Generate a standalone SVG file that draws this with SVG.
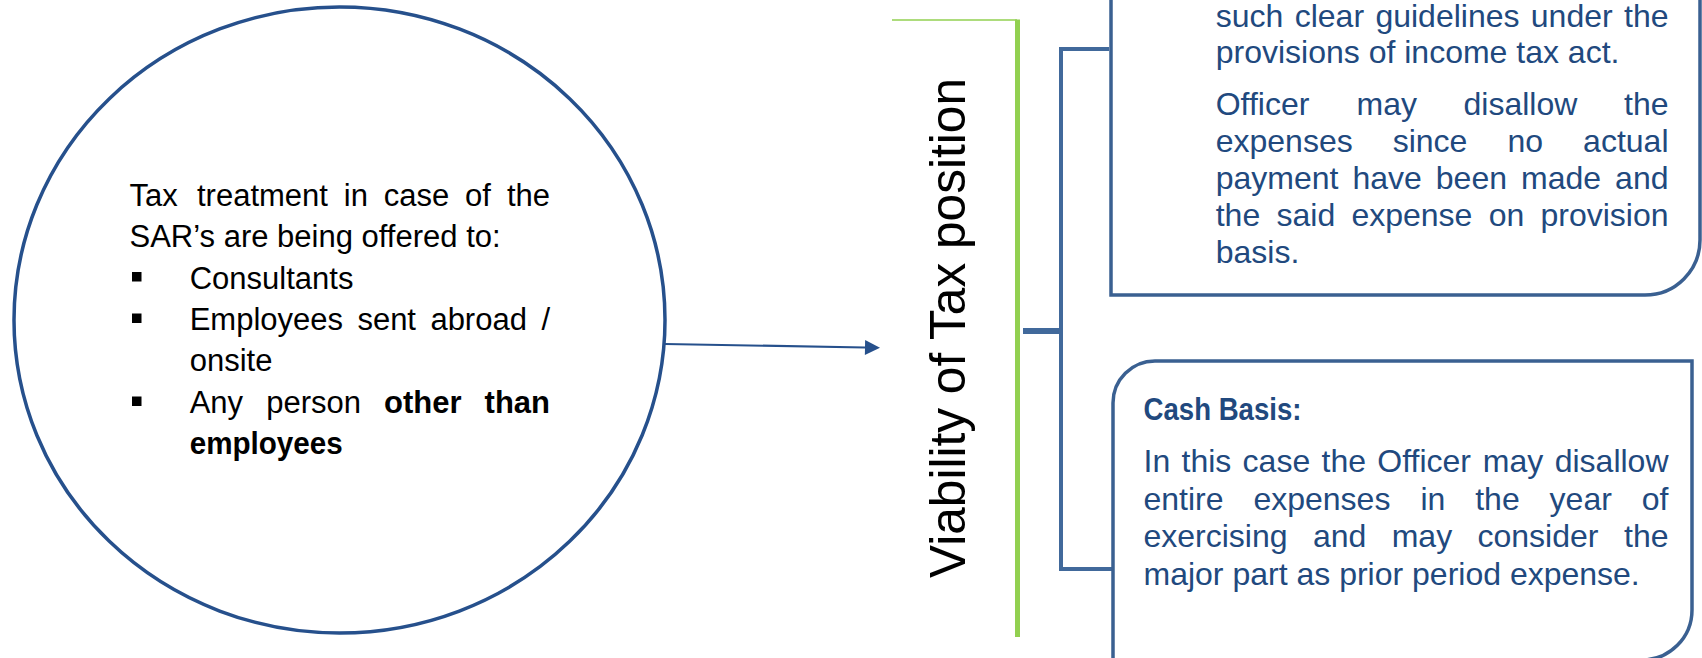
<svg xmlns="http://www.w3.org/2000/svg" width="1702" height="658" viewBox="0 0 1702 658">
  <defs>
    <marker id="arrowhead" markerUnits="userSpaceOnUse" markerWidth="16" markerHeight="16" refX="1" refY="8" orient="auto">
      <path d="M1,0.5 L16,8 L1,15.5 Z" fill="#26508C"/>
    </marker>
    <style>
      .ct { font-family: "Liberation Sans", Arial, sans-serif; font-size: 31px; fill: #000000; }
      .ctb { font-weight: bold; }
      .bt { font-family: "Liberation Sans", Arial, sans-serif; font-size: 32px; fill: #21497E; }
      .box { fill: #FFFFFF; stroke: #3A6091; stroke-width: 3.5; }
      .bullet { fill: #000000; }
      .conn { fill: none; stroke: #41699B; stroke-width: 4; }
      .stub { fill: none; stroke: #41699B; stroke-width: 6; }
    </style>
  </defs>
  <rect x="0" y="0" width="1702" height="658" fill="#FFFFFF"/>

  <g id="connectors">
    <path d="M665,344 L865,347.5" fill="none" stroke="#26508C" stroke-width="2.2" marker-end="url(#arrowhead)"/>
    <path class="conn" d="M1109,49 L1061,49 L1061,569 L1112,569"/>
    <path class="stub" d="M1023,331 L1063,331"/>
  </g>

  <g id="node-circle">
    <ellipse cx="339.5" cy="320" rx="325.5" ry="313" fill="#FFFFFF" stroke="#26508C" stroke-width="3.5"/>
    <text class="ct" y="206"><tspan x="129.5">Tax</tspan><tspan x="197">treatment</tspan><tspan x="343.8">in</tspan><tspan x="383.7">case</tspan><tspan x="465">of</tspan></text>
    <text class="ct" x="550" y="206" text-anchor="end">the</text>
    <text class="ct" x="129.5" y="246.5">SAR’s are being offered to:</text>
    <rect class="bullet" x="132" y="272" width="9.5" height="9.5"/>
    <text class="ct" x="189.7" y="288.5">Consultants</text>
    <rect class="bullet" x="132" y="313.5" width="9.5" height="9.5"/>
    <text class="ct" y="330"><tspan x="189.7">Employees</tspan><tspan x="357.4">sent</tspan><tspan x="430.4">abroad</tspan></text>
    <text class="ct" x="550" y="330" text-anchor="end">/</text>
    <text class="ct" x="189.7" y="371">onsite</text>
    <rect class="bullet" x="132" y="396.5" width="9.5" height="9.5"/>
    <text class="ct" y="413"><tspan x="189.7">Any</tspan><tspan x="266.2">person</tspan><tspan class="ctb" x="384.1">other</tspan></text>
    <text class="ct ctb" x="550" y="413" text-anchor="end">than</text>
    <text class="ct ctb" x="189.7" y="454" textLength="153" lengthAdjust="spacingAndGlyphs">employees</text>
  </g>

  <g id="node-viability">
    <path d="M892,20 L1017,20" stroke="#92D050" stroke-width="1.6" fill="none"/>
    <path d="M1017.5,19.5 L1017.5,637" stroke="#92D050" stroke-width="5" fill="none"/>
    <text transform="translate(965,578) rotate(-90)" x="0" y="0" font-family="'Liberation Sans', Arial, sans-serif" font-size="50" fill="#000000" textLength="500" lengthAdjust="spacingAndGlyphs">Viability of Tax position</text>
  </g>

  <g id="node-accrual-box">
    <path class="box" d="M1111,-40 L1111,295 L1645,295 A55,55 0 0 0 1700,240 L1700,-40 Z"/>
    <text class="bt" y="27"><tspan x="1215.7">such</tspan><tspan x="1294.7">clear</tspan><tspan x="1375.4">guidelines</tspan><tspan x="1530.8">under</tspan></text>
    <text class="bt" x="1668.5" y="27" text-anchor="end">the</text>
    <text class="bt" x="1215.7" y="63">provisions of income tax act.</text>
    <text class="bt" y="115"><tspan x="1215.7">Officer</tspan><tspan x="1356.5">may</tspan><tspan x="1463.5">disallow</tspan></text>
    <text class="bt" x="1668.5" y="115" text-anchor="end">the</text>
    <text class="bt" y="152"><tspan x="1215.7">expenses</tspan><tspan x="1392.7">since</tspan><tspan x="1507.4">no</tspan></text>
    <text class="bt" x="1668.5" y="152" text-anchor="end">actual</text>
    <text class="bt" y="189"><tspan x="1215.7">payment</tspan><tspan x="1352.4">have</tspan><tspan x="1435.8">been</tspan><tspan x="1521">made</tspan></text>
    <text class="bt" x="1668.5" y="189" text-anchor="end">and</text>
    <text class="bt" y="226"><tspan x="1215.7">the</tspan><tspan x="1276.5">said</tspan><tspan x="1351.4">expense</tspan><tspan x="1488.7">on</tspan></text>
    <text class="bt" x="1668.5" y="226" text-anchor="end">provision</text>
    <text class="bt" x="1215.7" y="263">basis.</text>
  </g>

  <g id="node-cash-box">
    <path class="box" d="M1113,662 L1113,403 A42,42 0 0 1 1155,361 L1692,361 L1692,610 A50,50 0 0 1 1642,660 L1642,662 Z"/>
    <text class="bt" x="1143.5" y="420" font-size="31" font-weight="bold" textLength="158" lengthAdjust="spacingAndGlyphs">Cash Basis:</text>
    <text class="bt" y="472"><tspan x="1143.5">In</tspan><tspan x="1181.5">this</tspan><tspan x="1242.6">case</tspan><tspan x="1321.5">the</tspan><tspan x="1377.3">Officer</tspan><tspan x="1482.8">may</tspan></text>
    <text class="bt" x="1668.5" y="472" text-anchor="end">disallow</text>
    <text class="bt" y="510"><tspan x="1143.5">entire</tspan><tspan x="1253.4">expenses</tspan><tspan x="1420.4">in</tspan><tspan x="1475.2">the</tspan><tspan x="1549.6">year</tspan></text>
    <text class="bt" x="1668.5" y="510" text-anchor="end">of</text>
    <text class="bt" y="547"><tspan x="1143.5">exercising</tspan><tspan x="1312.9">and</tspan><tspan x="1391.7">may</tspan><tspan x="1477.5">consider</tspan></text>
    <text class="bt" x="1668.5" y="547" text-anchor="end">the</text>
    <text class="bt" x="1143.5" y="585">major part as prior period expense.</text>
  </g>
</svg>
